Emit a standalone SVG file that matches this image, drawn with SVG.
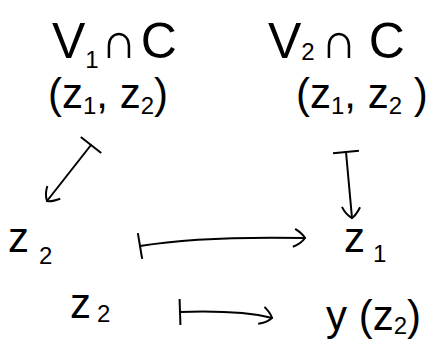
<svg xmlns="http://www.w3.org/2000/svg" width="443" height="344" viewBox="0 0 443 344">
<style>
text{font-family:"Liberation Sans","DejaVu Sans",sans-serif;fill:#000}
.big{font-size:50px}
.mid{font-size:42px}
.sub{font-size:24px}
.c{fill:none;stroke:#000;stroke-width:2;stroke-linecap:round;stroke-linejoin:round}
</style>
<defs>
<marker id="bar" markerWidth="4" markerHeight="30" refX="2" refY="15" orient="auto" markerUnits="userSpaceOnUse" viewBox="0 0 4 30">
<path d="M2,2 L2,28" stroke="#000" stroke-width="2" fill="none"/>
</marker>
<marker id="head" markerWidth="20" markerHeight="24" refX="16" refY="12" orient="auto" markerUnits="userSpaceOnUse" viewBox="0 0 20 24">
<path d="M6,3 Q14,8 16,12 Q12,18 4,21" stroke="#000" stroke-width="2" fill="none"/>
</marker>
</defs>
<g id="n-v1c">
<text class="big" x="52" y="58">V<tspan class="sub" dy="10">1</tspan><tspan dy="-10" dx="2">∩</tspan><tspan dx="4">C</tspan></text>
</g>
<g id="n-v2c">
<text class="big" x="268" y="58">V<tspan class="sub" dy="2">2</tspan><tspan dy="-2" dx="6">∩</tspan><tspan dx="12">C</tspan></text>
</g>
<g id="n-pair1">
<text class="mid" x="48" y="108">(z<tspan class="sub" dy="6">1</tspan><tspan dy="-6">, z</tspan><tspan class="sub" dy="6">2</tspan><tspan dy="-6">)</tspan></text>
</g>
<g id="n-pair2">
<text class="mid" x="296" y="108">(z<tspan class="sub" dy="6">1</tspan><tspan dy="-6">, z</tspan><tspan class="sub" dy="6">2</tspan><tspan dy="-6"> )</tspan></text>
</g>
<g id="n-z2">
<text class="mid" x="8" y="252">z<tspan class="sub" dx="10" dy="12">2</tspan></text>
</g>
<g id="n-z1">
<text class="mid" x="344" y="252">z<tspan class="sub" dx="8" dy="10">1</tspan></text>
</g>
<g id="n-z2b">
<text class="mid" x="70" y="318">z<tspan class="sub" dx="6" dy="4">2</tspan></text>
</g>
<g id="n-yz2">
<text class="mid" x="326" y="330">y (z<tspan class="sub" dy="4">2</tspan><tspan dy="-4">)</tspan></text>
</g>
<g id="connectors">
<path class="c" d="M91,145 L47,201" marker-start="url(#bar)" marker-end="url(#head)"/>
<path class="c" d="M346,152 L352,218" marker-start="url(#bar)" marker-end="url(#head)"/>
<path class="c" d="M140,246 Q200,236 305,238" marker-start="url(#bar)" marker-end="url(#head)"/>
<path class="c" d="M180,312 Q240,310 272,318" marker-start="url(#bar)" marker-end="url(#head)"/>
</g>
</svg>
